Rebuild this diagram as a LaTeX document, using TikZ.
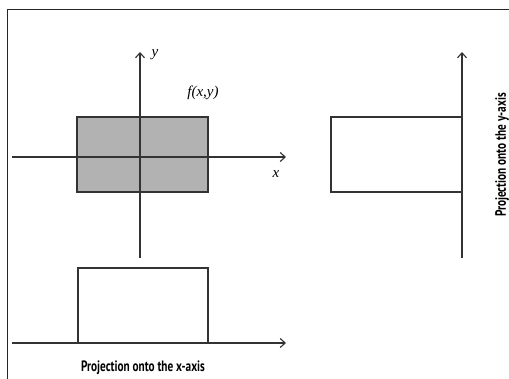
\documentclass[tikz,border=0pt]{standalone}
\usepackage{fontspec}
\setmainfont{Liberation Serif}
\newfontfamily\capfont{PT Sans}
\usetikzlibrary{arrows.meta}
\newcommand{\narrowtext}[1]{\scalebox{0.75}[1]{#1}}
\tikzset{
  ax/.style={draw=black!80, line width=1.2pt, -{Straight Barb[length=5pt,width=9pt,line width=1.1pt]}},
  box/.style={draw=black!80, line width=1.4pt},
  lbl/.style={font=\fontsize{15}{17}\selectfont\itshape, inner sep=0pt},
  captext/.style={font=\capfont\bfseries\fontsize{15}{17}\selectfont, inner sep=0pt}
}
\begin{document}
\begin{tikzpicture}[x=1pt,y=-1pt]
\useasboundingbox (0,0) rectangle (509,379);
\fill[white] (0,0) rectangle (509,379);
% frame
\draw[black!85, line width=1pt] (7,379) -- (7,10) -- (509,10);
% main
\fill[gray!60] (77,117) rectangle (208,192);
\coordinate (xl) at (12,157);
\coordinate (xr) at (286,157);
\coordinate (yb) at (140,258);
\coordinate (yt) at (140,52);
\draw[ax] (xl) -- (xr);
\draw[ax] (yb) -- (yt);
\draw[box] (77,117) rectangle (208,192);
\node[lbl] (ylab) at (155,55) {y};
\node[lbl] (xlab) at (276,174) {x};
\node[lbl] (flab) at (203,93) {f(x,y)};
% bottom
\coordinate (bl) at (12,343);
\coordinate (br) at (286,343);
\draw[box] (78,343) -- (78,268) -- (208,268) -- (208,343);
\draw[ax] (bl) -- (br);
\node[captext] (capx) at (143,368) {\narrowtext{Projection onto the x-axis}};
% right
\coordinate (rb) at (462,258);
\coordinate (rt) at (462,52);
\draw[box] (462,117) -- (331,117) -- (331,192) -- (462,192);
\draw[ax] (rb) -- (rt);
\node[captext, rotate=90] (capy) at (502,155) {\narrowtext{Projection onto the y-axis}};
\end{tikzpicture}
\end{document}
